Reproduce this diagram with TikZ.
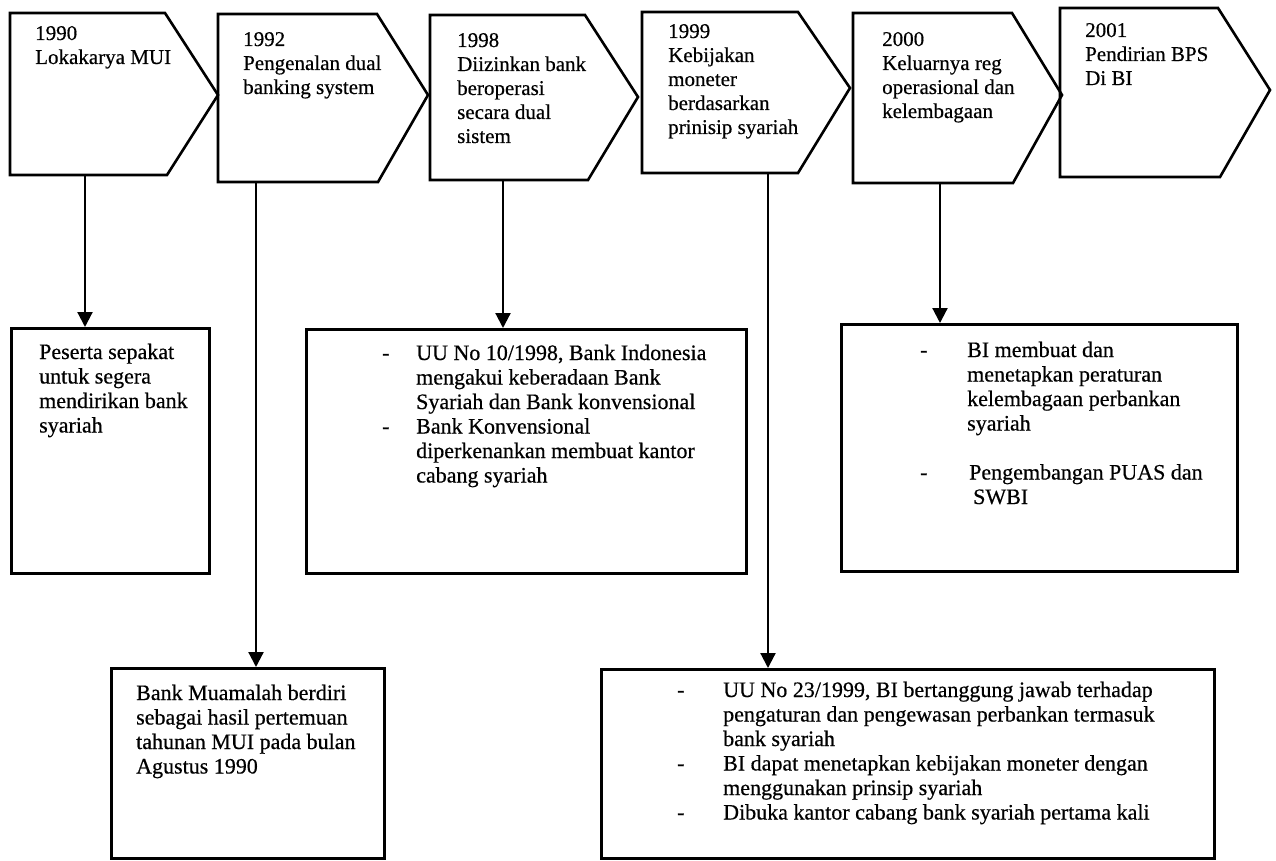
\documentclass[tikz,border=0pt]{standalone}
\usepackage{fontspec}
\setmainfont{Liberation Serif}[FakeBold=0.5]
\usetikzlibrary{arrows.meta}
\newcommand{\chf}{\fontsize{21}{24}\selectfont}
\newcommand{\bxf}{\fontsize{22}{24.5}\selectfont}
\begin{document}
\begin{tikzpicture}[x=1pt,y=-1pt,
  chev/.style={draw, line width=2.6pt, line join=miter},
  box/.style={draw, rectangle, anchor=north west, inner sep=0pt, line width=2.6pt},
  ctxt/.style={anchor=base west, inner sep=0pt, font=\chf},
  btxt/.style={anchor=base west, inner sep=0pt, font=\bxf},
  arr/.style={-{Triangle[length=15pt,width=15pt]}, line width=2.2pt}]
\useasboundingbox (0,0) rectangle (1276,861);

% chevrons
\draw[chev] (10,13) -- (165,13) -- (218,95) -- (167,175) -- (10,175) -- cycle;
\draw[chev] (218,14) -- (377,14) -- (428,95) -- (378,182) -- (218,182) -- cycle;
\draw[chev] (430,15) -- (585,15) -- (638,97) -- (588,180) -- (430,180) -- cycle;
\draw[chev] (642,12) -- (798,12) -- (850,88) -- (798,173) -- (642,173) -- cycle;
\draw[chev] (853,13) -- (1012,13) -- (1062,95) -- (1013,183) -- (853,183) -- cycle;
\draw[chev] (1060,8) -- (1218,8) -- (1270,90) -- (1220,177) -- (1060,177) -- cycle;

\node[ctxt] (t1) at (35,40) {\begin{tabular}[t]{@{}l@{}}1990\\Lokakarya MUI\end{tabular}};
\node[ctxt] (t2) at (243,46) {\begin{tabular}[t]{@{}l@{}}1992\\Pengenalan dual\\banking system\end{tabular}};
\node[ctxt] (t3) at (457,47) {\begin{tabular}[t]{@{}l@{}}1998\\Diizinkan bank\\beroperasi\\secara dual\\sistem\end{tabular}};
\node[ctxt] (t4) at (668,38) {\begin{tabular}[t]{@{}l@{}}1999\\Kebijakan\\moneter\\berdasarkan\\prinisip syariah\end{tabular}};
\node[ctxt] (t5) at (882,46) {\begin{tabular}[t]{@{}l@{}}2000\\Keluarnya reg\\operasional dan\\kelembagaan\end{tabular}};
\node[ctxt] (t6) at (1085,37) {\begin{tabular}[t]{@{}l@{}}2001\\Pendirian BPS\\Di BI\end{tabular}};

% stem starts
\coordinate (s1) at (85,175);
\coordinate (s2) at (256,182);
\coordinate (s3) at (503,180);
\coordinate (s4) at (768,173);
\coordinate (s5) at (940,183);

% boxes
\node[box, minimum width=198pt, minimum height=245pt] (b1) at (10,327) {};
\node[box, minimum width=440pt, minimum height=244pt] (b3) at (305,328) {};
\node[box, minimum width=396pt, minimum height=247pt] (b5) at (840,323) {};
\node[box, minimum width=273pt, minimum height=190pt] (b2) at (110,667) {};
\node[box, minimum width=613pt, minimum height=189pt] (b4) at (600,668) {};

% connectors
\draw[arr] (s1) -- (s1 |- b1.north);
\draw[arr] (s2) -- (s2 |- b2.north);
\draw[arr] (s3) -- (s3 |- b3.north);
\draw[arr] (s4) -- (s4 |- b4.north);
\draw[arr] (s5) -- (s5 |- b5.north);

% box texts
\node[btxt] (x1) at (39,359) {\begin{tabular}[t]{@{}l@{}}Peserta sepakat\\untuk segera\\mendirikan bank\\syariah\end{tabular}};
\node[btxt] (x3) at (382,360) {\begin{tabular}[t]{@{}p{34pt}@{}l@{}}-&UU No 10/1998, Bank Indonesia\\&mengakui keberadaan Bank\\&Syariah dan Bank konvensional\\-&Bank Konvensional\\&diperkenankan membuat kantor\\&cabang syariah\end{tabular}};
\node[btxt] (x5) at (920,357) {\begin{tabular}[t]{@{}p{47pt}@{}l@{}}-&BI membuat dan\\&menetapkan peraturan\\&kelembagaan perbankan\\&syariah\\[24.5pt]-&\hspace{2pt}Pengembangan PUAS dan\\&\hspace{6pt}SWBI\end{tabular}};
\node[btxt] (x2) at (136,700) {\begin{tabular}[t]{@{}l@{}}Bank Muamalah berdiri\\sebagai hasil pertemuan\\tahunan MUI pada bulan\\Agustus 1990\end{tabular}};
\node[btxt] (x4) at (677,697) {\begin{tabular}[t]{@{}p{46pt}@{}l@{}}-&UU No 23/1999, BI bertanggung jawab terhadap\\&pengaturan dan pengewasan perbankan termasuk\\&bank syariah\\-&BI dapat menetapkan kebijakan moneter dengan\\&menggunakan prinsip syariah\\-&Dibuka kantor cabang bank syariah pertama kali\end{tabular}};
\end{tikzpicture}
\end{document}
